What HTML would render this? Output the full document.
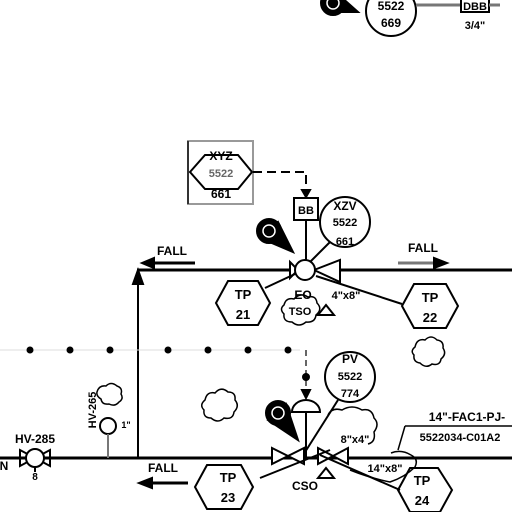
<!DOCTYPE html>
<html><head><meta charset="utf-8"><style>
html,body{margin:0;padding:0;background:#fff;}
svg{display:block;}
text{font-family:"Liberation Sans",sans-serif;font-weight:bold;fill:#000;text-anchor:middle;}
</style></head><body>
<svg width="512" height="512" viewBox="0 0 512 512" xmlns="http://www.w3.org/2000/svg">
<g stroke="#000" fill="none" stroke-width="2">
<!-- top -->
<circle cx="333" cy="3" r="12" fill="#000"/>
<path d="M328,12 L358,12 L340,-4 Z" fill="#000"/>
<circle cx="333" cy="3" r="6" stroke="#fff" stroke-width="1.5"/>
<circle cx="391" cy="11" r="25"/>
<line x1="416" y1="5" x2="460" y2="5" stroke="#777" stroke-width="3"/>
<rect x="461" y="-2" width="28" height="14"/>
<line x1="489" y1="5" x2="500" y2="5" stroke="#777" stroke-width="3"/>
<!-- XYZ box -->
<rect x="188" y="141" width="65" height="63" stroke="#999"/>
<line x1="188" y1="141" x2="188" y2="204" stroke="#333"/>
<path d="M190,172 L205,155 L238,155 L252,172 L238,189 L205,189 Z"/>
<path d="M253,172 H306 V190" stroke-dasharray="9,5"/>
<path d="M302,190 L306,197 L310,190 Z" fill="#000"/>
<rect x="294" y="198" width="24" height="22"/>
<line x1="306" y1="220" x2="306" y2="260"/>
<!-- main line -->
<line x1="137" y1="270" x2="512" y2="270" stroke-width="3"/>
<line x1="138" y1="272" x2="138" y2="458" stroke-width="2"/>
<path d="M133,284 L138,270 L143,284 Z" fill="#000"/>
<line x1="150" y1="263" x2="195" y2="263" stroke-width="3"/>
<path d="M142,263 L154,258 L154,268 Z" fill="#000"/>
<line x1="398" y1="263" x2="435" y2="263" stroke="#777" stroke-width="3"/>
<path d="M447,263 L434,258 L434,268 Z" fill="#000"/>
<!-- valve top -->
<path d="M290,262 L298,270 L290,278 Z" fill="#fff"/>
<path d="M314,270 L340,260 L340,282 Z" fill="#fff"/>
<circle cx="305" cy="270" r="10" fill="#fff"/>
<circle cx="345" cy="222" r="25"/>
<line x1="330" y1="242" x2="310" y2="262"/>
<line x1="316" y1="276" x2="402" y2="304"/>
<line x1="295" y1="274" x2="265" y2="288"/>
<circle cx="269" cy="231" r="12" fill="#000"/>
<path d="M260,238 L293,252 L278,222 Z" fill="#000"/>
<circle cx="269" cy="231" r="6" stroke="#fff" stroke-width="1.5"/>
<path d="M216,303 L228,281 L258,281 L270,303 L258,325 L228,325 Z"/>
<path d="M402,306 L414,284 L446,284 L458,306 L446,328 L414,328 Z"/>
<path d="M318,315 L326,305 L334,315 Z"/>
<path d="M284,305 q2,-8 10,-6 q6,-7 14,-2 q8,-2 9,6 q6,6 -1,12 q-1,8 -10,7 q-7,6 -14,0 q-9,0 -8,-8 q-5,-5 0,-9 Z" stroke-width="1.5"/>
<!-- dots -->
<line x1="0" y1="350" x2="300" y2="350" stroke="#ddd" stroke-width="1"/>
<g fill="#000" stroke="none">
<circle cx="30" cy="350" r="3.5"/><circle cx="70" cy="350" r="3.5"/><circle cx="110" cy="350" r="3.5"/>
<circle cx="168" cy="350" r="3.5"/><circle cx="208" cy="350" r="3.5"/><circle cx="248" cy="350" r="3.5"/><circle cx="288" cy="350" r="3.5"/>
</g>
<path d="M205,400 q2,-9 10,-7 q6,-7 13,-1 q8,0 7,8 q5,6 -1,12 q-1,8 -10,6 q-6,6 -13,0 q-8,0 -7,-8 q-5,-5 1,-10 Z" stroke-width="1.5"/>
<path d="M415,347 q2,-9 10,-7 q6,-6 12,0 q7,1 6,8 q4,6 -2,11 q-1,7 -9,5 q-6,5 -12,-1 q-7,-1 -6,-8 q-4,-4 1,-8 Z" stroke-width="1.5"/>
<!-- PV -->
<circle cx="350" cy="377" r="25"/>
<line x1="306" y1="350" x2="306" y2="392" stroke="#666" stroke-dasharray="6,4"/>
<circle cx="306" cy="377" r="3" fill="#000"/>
<path d="M302,390 L306,398 L310,390 Z" fill="#000"/>
<path d="M292,412 a14,12 0 0 1 28,0 Z"/>
<line x1="306" y1="412" x2="306" y2="458"/>
<line x1="338" y1="400" x2="300" y2="460"/>
<circle cx="278" cy="413" r="12" fill="#000"/>
<path d="M268,420 L298,440 L286,404 Z" fill="#000"/>
<circle cx="278" cy="413" r="6" stroke="#fff" stroke-width="1.5"/>
<!-- bottom line -->
<line x1="0" y1="458" x2="512" y2="458" stroke-width="3"/>
<path d="M272,448 L304,464 L304,448 L272,464 Z" fill="#fff"/>
<path d="M318,448 L348,464 L348,448 L318,464 Z" fill="#fff"/>
<path d="M328,415 q4,-8 14,-5 q10,-6 20,0 q10,-2 12,8 q6,6 0,14 q2,10 -6,12" stroke-width="1.5"/>
<path d="M350,470 q20,8 40,12 q15,-5 25,-15 q4,-8 -4,-12 q-10,-6 -20,-2" stroke-width="1.5"/>
<line x1="260" y1="478" x2="330" y2="450"/>
<line x1="320" y1="455" x2="400" y2="490"/>
<path d="M195,487 L207,465 L241,465 L253,487 L241,509 L207,509 Z"/>
<path d="M398,490 L410,468 L438,468 L452,490 L440,512 L410,512 Z"/>
<path d="M318,478 L326,468 L334,478 Z"/>
<line x1="150" y1="483" x2="188" y2="483" stroke-width="3"/>
<path d="M139,483 L152,478 L152,488 Z" fill="#000"/>
<line x1="405" y1="426" x2="512" y2="426" stroke-width="1.5"/>
<line x1="405" y1="426" x2="398" y2="450" stroke-width="1.5"/>
<!-- HV valves -->
<path d="M20,450 L20,466 L50,450 L50,466 Z"/>
<circle cx="35" cy="458" r="9" fill="#fff"/>
<line x1="35" y1="466" x2="35" y2="472"/>
<circle cx="108" cy="426" r="8"/>
<line x1="108" y1="434" x2="108" y2="458" stroke="#777"/>
<path d="M97,392 q2,-7 9,-6 q5,-5 11,0 q6,2 4,8 q3,5 -2,8 q-4,5 -10,2 q-7,1 -8,-5 q-5,-3 -4,-7 Z" stroke-width="1.5"/>
</g>
<text x="391" y="10" font-size="12">5522</text>
<text x="391" y="27" font-size="12">669</text>
<text x="475" y="10" font-size="11">DBB</text>
<text x="475" y="29" font-size="11">3/4"</text>
<text x="221" y="160" font-size="12">XYZ</text>
<text x="221" y="177" font-size="11" style="fill:#666">5522</text>
<text x="221" y="198" font-size="12">661</text>
<text x="306" y="214" font-size="11">BB</text>
<text x="345" y="210" font-size="12">XZV</text>
<text x="345" y="226" font-size="11">5522</text>
<text x="345" y="245" font-size="11">661</text>
<text x="172" y="255" font-size="12">FALL</text>
<text x="423" y="252" font-size="12">FALL</text>
<text x="243" y="299" font-size="13">TP</text>
<text x="243" y="319" font-size="13">21</text>
<text x="430" y="302" font-size="13">TP</text>
<text x="430" y="322" font-size="13">22</text>
<text x="303" y="299" font-size="12">EO</text>
<text x="300" y="315" font-size="11">TSO</text>
<text x="346" y="299" font-size="11">4"x8"</text>
<text x="350" y="363" font-size="12">PV</text>
<text x="350" y="380" font-size="11">5522</text>
<text x="350" y="397" font-size="11">774</text>
<text x="467" y="421" font-size="12">14"-FAC1-PJ-</text>
<text x="460" y="441" font-size="11">5522034-C01A2</text>
<text x="355" y="443" font-size="11">8"x4"</text>
<text x="385" y="472" font-size="11">14"x8"</text>
<text x="305" y="490" font-size="12">CSO</text>
<text x="228" y="482" font-size="13">TP</text>
<text x="228" y="502" font-size="13">23</text>
<text x="422" y="485" font-size="13">TP</text>
<text x="422" y="505" font-size="13">24</text>
<text x="163" y="472" font-size="12">FALL</text>
<text x="35" y="443" font-size="12">HV-285</text>
<text x="4" y="470" font-size="12">N</text>
<text x="35" y="480" font-size="10">8</text>
<text x="96" y="410" font-size="11" transform="rotate(-90 96 410)">HV-265</text>
<text x="126" y="428" font-size="9">1"</text>
</svg>
</body></html>
